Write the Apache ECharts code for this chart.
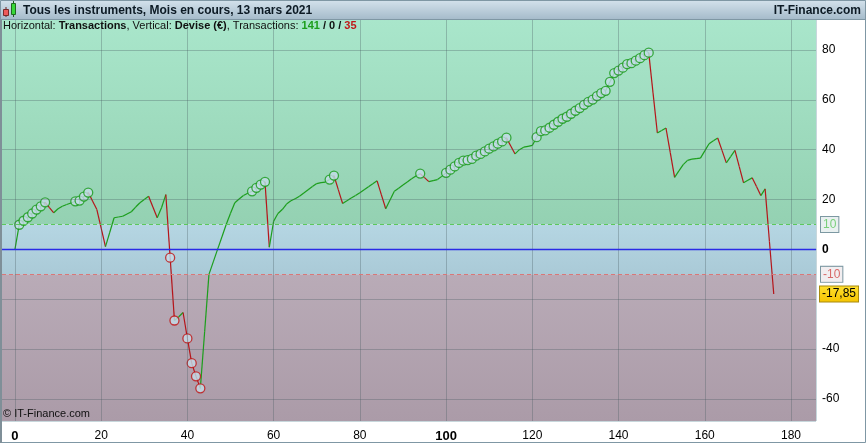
<!DOCTYPE html>
<html>
<head>
<meta charset="utf-8">
<script src="https://cdn.jsdelivr.net/npm/echarts@6/dist/echarts.min.js"></script>
<style>
html,body{margin:0;padding:0;background:#fff;}
#c{width:866px;height:443px;}
</style>
</head>
<body>
<div id="c"></div>
<script>
// ---- data ----
const equity = [
0, 9.9, 11.5, 12.9, 14.4, 16.0, 17.3, 18.9, 16.8, 14.7,
16.3, 17.3, 18.0, 18.6, 19.3, 19.6, 21.2, 22.8, 19.4, 16.0,
8.5, 1.1, 6.9, 12.7, 13.0, 13.3, 14.2, 15.1, 17.0, 18.7,
20.0, 21.3, 17.0, 12.7, 16.7, 22.0, -3.3, -28.5, -27.0, -25.3,
-35.7, -45.6, -50.9, -55.7, -33.0, -10.0, -5.0, 0.0, 5.0, 10.0,
14.5, 18.7, 20.2, 21.6, 22.5, 23.3, 24.7, 26.0, 27.1, 0.9,
11.3, 14.4, 16.0, 18.2, 19.5, 20.3, 21.3, 22.6, 23.9, 25.2,
26.4, 26.8, 27.0, 28.0, 29.6, 24.0, 18.4, 19.5, 20.6, 21.6,
22.7, 23.9, 25.1, 26.3, 27.5, 21.9, 16.3, 19.8, 23.3, 24.5,
25.8, 27.0, 28.3, 29.4, 30.4, 28.8, 27.2, 27.6, 28.0, 29.3,
30.7, 32.0, 33.3, 34.7, 35.6, 35.8, 36.3, 37.6, 38.3, 39.3,
40.4, 41.3, 42.4, 43.3, 44.8, 41.5, 38.3, 40.0, 41.0, 41.3,
41.7, 45.0, 47.4, 47.7, 48.8, 50.0, 51.2, 52.4, 53.2, 54.4,
55.6, 56.7, 58.0, 59.2, 60.1, 61.5, 62.7, 63.6, 67.2, 70.7,
71.7, 72.9, 74.3, 74.7, 75.7, 76.7, 77.9, 78.9, 62.8, 46.7,
47.7, 48.7, 38.8, 28.9, 31.5, 34.0, 35.7, 36.2, 36.4, 36.6,
39.5, 42.4, 43.6, 44.7, 39.7, 34.7, 37.2, 39.7, 33.2, 26.7,
27.7, 28.7, 25.2, 21.6, 24.3, 3.2, -17.85
];
// transactions that set a new high / a new low (circled)
const highIdx = [1,2,3,4,5,6,7,14,15,16,17,55,56,57,58,73,74,94,
  100,101,102,103,104,105,106,107,108,109,110,111,112,113,114,
  121,122,123,124,125,126,127,128,129,130,131,132,133,134,135,136,137,138,139,140,141,142,143,144,145,146,147];
const lowIdx = [36,37,40,41,42,43];
const tradeCounts = [141, 0, 35];      // winners / neutral / losers
const xLabelValues = [0,20,40,60,80,100,120,140,160,180];
const xTickValues = [0,10,20,30,40,50,60,70,80,90,100,110,120,130,140,150,160,170,180];
const yLabelValues = [-60,-40,0,20,40,60,80];   // -20 is hidden under the last-value box
const yTickValues = [-60,-50,-40,-30,-20,-10,0,10,20,30,40,50,60,70,80,90];
const yGridValues = [-60,-40,-20,20,40,60,80];
const bandLimits = [10, -10];
const titleText = 'Tous les instruments, Mois en cours, 13 mars 2021';
const brandText = 'IT-Finance.com';

// ---- derived ----
const segments = [];
for (let i = 0; i < equity.length - 1; i++) segments.push([i, equity[i], equity[i + 1]]);
const highPts = highIdx.map(i => [i, equity[i]]);
const lowPts = lowIdx.map(i => [i, equity[i]]);
const lastVal = equity[equity.length - 1];
const fmt = v => String(v).replace('.', ',');

const FONT = "'Liberation Sans', Arial, sans-serif";
const GREEN = '#1c9e1c', RED = '#b5151a';
const LG = (a, b) => new echarts.graphic.LinearGradient(0, 0, 0, 1, [{offset:0,color:a},{offset:1,color:b}]);

const chart = echarts.init(document.getElementById('c'), null, {renderer:'canvas'});
chart.setOption({
  animation: false,
  backgroundColor: '#ffffff',
  grid: {left: 2, right: 50, top: 20, bottom: 21, show: true, borderColor: '#8fb0ba', borderWidth: 1, backgroundColor: 'transparent'},
  xAxis: {
    type: 'value', min: -3, max: 185.8,
    axisLine: {show: true, lineStyle: {color: '#8fb0ba'}},
    axisTick: {show: true, customValues: xTickValues, length: 4, lineStyle: {color: '#333'}},
    axisLabel: {customValues: xLabelValues, color: '#000', fontFamily: FONT, fontSize: 12, margin: 9,
      formatter: v => (v === 0 || v === 100) ? '{b|' + v + '}' : String(v),
      rich: {b: {fontWeight: 'bold', fontSize: 13, fontFamily: FONT, color: '#000'}}},
    splitLine: {show: false}
  },
  yAxis: {
    type: 'value', position: 'right', min: -68.8, max: 92,
    axisLine: {show: false},
    axisTick: {show: true, customValues: yTickValues, length: 5, lineStyle: {color: '#333'}},
    axisLabel: {customValues: yLabelValues, color: '#000', fontFamily: FONT, fontSize: 12, margin: 6,
      formatter: v => v === 0 ? '{b|0}' : String(v),
      rich: {b: {fontWeight: 'bold', fontSize: 12, fontFamily: FONT, color: '#000'}}},
    splitLine: {show: false}
  },
  graphic: [
    {type: 'rect', shape: {x: 0, y: 0, width: 866, height: 19}, style: {fill: LG('#d4e2ec', '#a6bccb')}, z: 10},
    {type: 'line', shape: {x1: 0, y1: 19.5, x2: 866, y2: 19.5}, style: {stroke: '#7f97a4', lineWidth: 1}, z: 10},
    // icon
    {type: 'line', shape: {x1: 6, y1: 7, x2: 6, y2: 17}, style: {stroke: '#6a2020', lineWidth: 1}, z: 11},
    {type: 'rect', shape: {x: 3.5, y: 9.5, width: 5, height: 6}, style: {fill: '#ee5a5a', stroke: '#7a2a2a', lineWidth: 1}, z: 11},
    {type: 'line', shape: {x1: 13.5, y1: 1, x2: 13.5, y2: 17}, style: {stroke: '#206020', lineWidth: 1}, z: 11},
    {type: 'rect', shape: {x: 11.5, y: 3.5, width: 4, height: 11}, style: {fill: '#38d838', stroke: '#206a20', lineWidth: 1}, z: 11},
    {type: 'text', x: 23, y: 10.5, style: {text: titleText, font: 'bold 12px ' + FONT, fill: '#0c1a24', textVerticalAlign: 'middle'}, z: 11},
    {type: 'text', x: 861, y: 10.5, style: {text: brandText, font: 'bold 12px ' + FONT, fill: '#0c1a24', textAlign: 'right', textVerticalAlign: 'middle'}, z: 11},
    {type: 'text', x: 3, y: 26, z: 11, style: {
      text: 'Horizontal: {b|Transactions}, Vertical: {b|Devise (€)}, Transactions: {g|' + tradeCounts[0] + '}{b| / ' + tradeCounts[1] + ' / }{r|' + tradeCounts[2] + '}',
      font: '11px ' + FONT, fill: '#111', textVerticalAlign: 'middle',
      rich: {b: {fontWeight: 'bold', fontSize: 11, fontFamily: FONT, fill: '#111'},
             g: {fontWeight: 'bold', fontSize: 11, fontFamily: FONT, fill: '#1c9e1c'},
             r: {fontWeight: 'bold', fontSize: 11, fontFamily: FONT, fill: '#c01818'}}}},
    {type: 'text', x: 3, y: 414, z: 11, style: {text: '© IT-Finance.com', font: '11px ' + FONT, fill: '#111', textVerticalAlign: 'middle'}},
    // outer frame
    {type: 'rect', shape: {x: 0.5, y: 0.5, width: 865, height: 442}, style: {fill: 'none', stroke: '#7f97a4', lineWidth: 1}, z: 12},
    {type: 'line', shape: {x1: 1, y1: 20, x2: 1, y2: 443}, style: {stroke: '#7f8f98', lineWidth: 2}, z: 12}
  ],
  series: [
    {
      type: 'line', data: equity.map((v, i) => [i, v]), showSymbol: false, silent: true,
      lineStyle: {opacity: 0}, z: 1,
      markArea: {
        silent: true,
        data: [
          [{yAxis: bandLimits[0], itemStyle: {color: LG('#a9e6cb', '#94d1b2')}}, {yAxis: 92}],
          [{yAxis: bandLimits[1], itemStyle: {color: LG('#b5d6e3', '#aacad7')}}, {yAxis: bandLimits[0]}],
          [{yAxis: -68.8, itemStyle: {color: LG('#b9abb7', '#ab9ba8')}}, {yAxis: bandLimits[1]}]
        ]
      },
      markLine: {
        silent: true, symbol: 'none', animation: false,
        label: {show: false},
        data: [
          ...yGridValues.map(v => ({yAxis: v, lineStyle: {color: 'rgba(70,90,95,0.32)', type: 'solid', width: 1}})),
          ...xLabelValues.map(v => ({xAxis: v, lineStyle: {color: 'rgba(70,90,95,0.32)', type: 'solid', width: 1}})),
          {yAxis: 0, lineStyle: {color: '#2a2ae6', type: 'solid', width: 1.3}},
          {yAxis: bandLimits[0], lineStyle: {color: '#5cc85c', type: [4, 3], width: 1},
            label: {show: true, position: 'end', distance: 5, formatter: String(bandLimits[0]), color: '#7ad07a',
              backgroundColor: '#e9f0f0', borderColor: '#7c98a2', borderWidth: 1, padding: [2, 2, 1, 2], fontFamily: FONT, fontSize: 12}},
          {yAxis: bandLimits[1], lineStyle: {color: '#d87878', type: [4, 3], width: 1},
            label: {show: true, position: 'end', distance: 5, formatter: String(bandLimits[1]), color: '#d86a6a',
              backgroundColor: '#f2eef0', borderColor: '#7c98a2', borderWidth: 1, padding: [2, 2, 1, 2], fontFamily: FONT, fontSize: 12}},
          {yAxis: lastVal, lineStyle: {color: 'rgba(0,0,0,0)', width: 0},
            label: {show: true, position: 'end', distance: 4, formatter: fmt(lastVal), color: '#000',
              backgroundColor: LG('#ffe030', '#f5c400'), borderColor: '#a88a10', borderWidth: 1, padding: [2, 2, 1, 2], fontFamily: FONT, fontSize: 12}}
        ]
      }
    },
    {
      type: 'custom', data: segments, z: 3, silent: true,
      encode: {x: 0, y: [1, 2]},
      renderItem: (params, api) => {
        const x0 = api.value(0), a = api.value(1), b = api.value(2);
        const p0 = api.coord([x0, a]);
        const p1 = api.coord([x0 + 1, b]);
        return {type: 'line', shape: {x1: p0[0], y1: p0[1], x2: p1[0], y2: p1[1]},
          style: {stroke: b >= a ? GREEN : RED, lineWidth: 1.2}};
      }
    },
    {
      type: 'scatter', data: highPts, symbol: 'circle', symbolSize: 9, z: 4, silent: true,
      itemStyle: {color: '#c4dce8', borderColor: '#179a17', borderWidth: 1.3}
    },
    {
      type: 'scatter', data: lowPts, symbol: 'circle', symbolSize: 9, z: 4, silent: true,
      itemStyle: {color: '#c4dce8', borderColor: '#c01010', borderWidth: 1.3}
    }
  ]
});
</script>
</body>
</html>
